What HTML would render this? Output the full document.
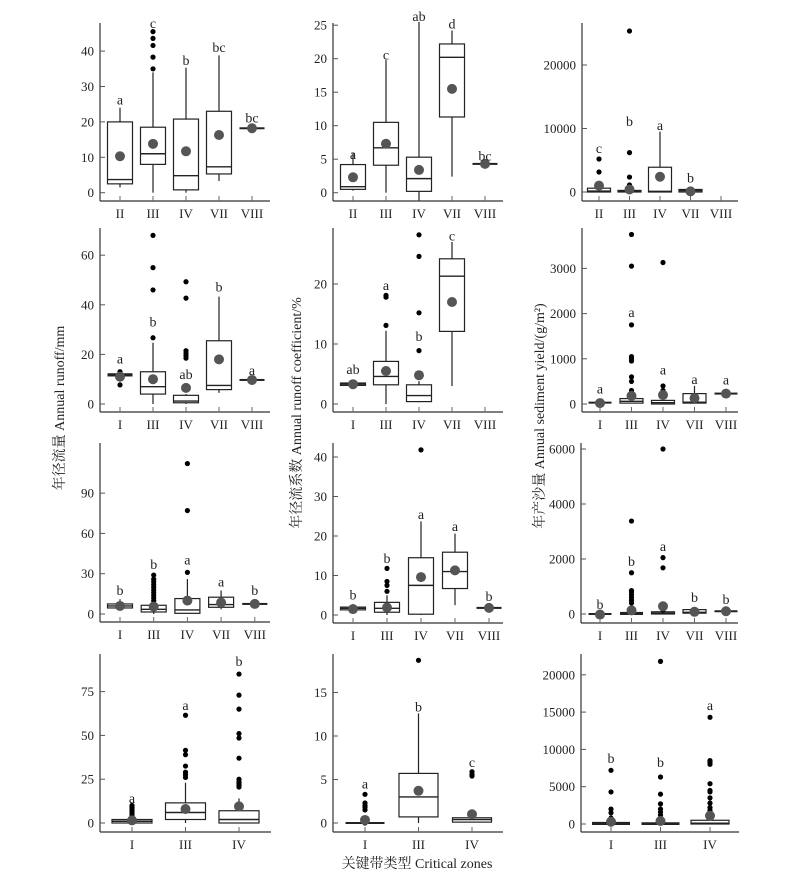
<!DOCTYPE html>
<html><head><meta charset="utf-8">
<style>
html,body{margin:0;padding:0;background:#fff;}
svg{display:block;font-family:"Liberation Serif","Noto Serif CJK SC",serif;}
</style></head>
<body>
<svg id="fig" width="800" height="879" viewBox="0 0 800 879" xmlns="http://www.w3.org/2000/svg">
<text x="0" y="0" transform="translate(64,408) rotate(-90)" text-anchor="middle" font-size="14" fill="#222">年径流量 Annual runoff/mm</text>
<text x="0" y="0" transform="translate(301,413) rotate(-90)" text-anchor="middle" font-size="14" fill="#222">年径流系数 Annual runoff coefficient/%</text>
<text x="0" y="0" transform="translate(544,416) rotate(-90)" text-anchor="middle" font-size="14" fill="#222">年产沙量 Annual sediment yield/(g/m²)</text>
<text x="417" y="868" text-anchor="middle" font-size="14" fill="#222">关键带类型  Critical zones</text>
</svg>
<script>
// ---------- Panel data ----------
const p1_cats=["II","III","IV","VII","VIII"];
const p1_lo=[1.5,0,0,3.3,18.2];
const p1_q1=[2.5,8,0.8,5.3,18.2];
const p1_med=[3.7,11,4.8,7.3,18.2];
const p1_q3=[20,18.5,20.8,23,18.2];
const p1_hi=[24,34,35.3,38.8,18.2];
const p1_mean=[10.3,13.8,11.7,16.3,18.2];
const p1_out=[[],[35,38.3,41.6,43.6,45.5],[],[],[]];
const p1_letters=["a","c","b","bc","bc"];
const p1_letterY=[26,47.6,37.2,40.9,21];
const p1_ticks=[0,10,20,30,40];

const p2_cats=["II","III","IV","VII","VIII"];
const p2_lo=[0.3,0,-1.2,2.4,4.3];
const p2_q1=[0.5,4.1,0.2,11.3,4.3];
const p2_med=[0.9,6.7,2.1,20.2,4.3];
const p2_q3=[4.2,10.5,5.3,22.2,4.3];
const p2_hi=[6,19.8,25.5,24.2,4.3];
const p2_mean=[2.3,7.3,3.4,15.5,4.3];
const p2_out=[[],[],[],[],[]];
const p2_letters=["a","c","ab","d","bc"];
const p2_letterY=[5.6,20.5,26.2,25.1,5.4];
const p2_ticks=[0,5,10,15,20,25];

const p3_cats=["II","III","IV","VII","VIII"];
const p3_lo=[0,0,0,0,null];
const p3_q1=[0,0,0,0,null];
const p3_med=[150,100,100,200,null];
const p3_q3=[600,250,3900,400,null];
const p3_hi=[600,250,9500,400,null];
const p3_mean=[1000,400,2400,100,null];
const p3_out=[[3150,5200],[1100,2350,6200,25350],[],[],[]];
const p3_letters=["c","b","a","b",""];
const p3_letterY=[6800,11000,10400,2100,0];
const p3_ticks=[0,10000,20000];

const p4_cats=["I","III","IV","VII","VIII"];
const p4_lo=[11.7,0,0,4.5,9.7];
const p4_q1=[11.5,4,0.5,5.8,9.7];
const p4_med=[11.7,7,1.2,7.5,9.7];
const p4_q3=[12,13,3.5,25.5,9.7];
const p4_hi=[11.7,24.7,4,43.3,9.7];
const p4_mean=[11,10,6.5,18,9.7];
const p4_out=[[7.7,13],[26.7,46,55,68],[18.5,19.5,20.5,21.5,42.7,49.3],[],[]];
const p4_letters=["a","b","ab","b","a"];
const p4_letterY=[17.9,32.8,11.7,47,13.4];
const p4_ticks=[0,20,40,60];

const p5_cats=["I","III","IV","VII","VIII"];
const p5_lo=[3.1,0,0.3,3,null];
const p5_q1=[3.1,3.2,0.4,12.1,null];
const p5_med=[3.3,4.6,1.4,21.3,null];
const p5_q3=[3.5,7.1,3.2,24.2,null];
const p5_hi=[3.5,12.2,3.8,27,null];
const p5_mean=[3.3,5.5,4.8,17,null];
const p5_out=[[],[13.1,17.8,18.1],[8.9,15.2,24.6,28.2],[],[]];
const p5_letters=["ab","a","b","c",""];
const p5_letterY=[5.7,19.7,11.2,27.9,0];
const p5_ticks=[0,10,20];

const p6_cats=["I","III","IV","VII","VIII"];
const p6_lo=[30,20,0,20,230];
const p6_q1=[30,20,0,20,230];
const p6_med=[30,60,30,40,230];
const p6_q3=[30,120,80,230,230];
const p6_hi=[30,200,150,400,230];
const p6_mean=[20,180,200,130,230];
const p6_out=[[],[230,300,500,600,950,1000,1050,1750,3050,3750],[200,300,400,3130],[],[]];
const p6_letters=["a","a","a","a","a"];
const p6_letterY=[320,2010,740,530,515];
const p6_ticks=[0,1000,2000,3000];

const p7_cats=["I","III","IV","VII","VIII"];
const p7_lo=[3,0,0,3.5,7.5];
const p7_q1=[4.5,1.5,0.5,5,7.5];
const p7_med=[6,3.5,3,7,7.5];
const p7_q3=[7.5,6.5,11.5,12.5,7.5];
const p7_hi=[11,7,26,17.5,7.5];
const p7_mean=[6,5.5,10,8.5,7.5];
const p7_out=[[],[8,10,12,14,16,18,20,22,24,26,29],[31,77,112],[],[]];
const p7_letters=["b","b","a","a","b"];
const p7_letterY=[17,36.5,40,23.3,17];
const p7_ticks=[0,30,60,90];

const p8_cats=["I","III","IV","VII","VIII"];
const p8_lo=[1.3,0,0,2.5,1.8];
const p8_q1=[1.3,0.7,0.2,6.7,1.8];
const p8_med=[1.7,1.7,7.5,11,1.8];
const p8_q3=[2,3.2,14.5,15.9,1.8];
const p8_hi=[2.8,5,23.7,20.6,1.8];
const p8_mean=[1.5,1.9,9.6,11.3,1.8];
const p8_out=[[],[6,7.5,8.5,11.8],[41.8],[],[]];
const p8_letters=["b","b","a","a","b"];
const p8_letterY=[5,14.2,25.3,22.3,4.6];
const p8_ticks=[0,10,20,30,40];

const p9_cats=["I","III","IV","VII","VIII"];
const p9_lo=[0,0,0,30,100];
const p9_q1=[0,0,0,30,100];
const p9_med=[0,20,30,60,100];
const p9_q3=[0,40,80,160,100];
const p9_hi=[0,300,100,200,100];
const p9_mean=[-20,130,280,80,100];
const p9_out=[[],[400,500,600,700,800,850,1500,3380],[150,1680,2050,6000],[],[]];
const p9_letters=["b","b","a","b","b"];
const p9_letterY=[330,1890,2440,580,510];
const p9_ticks=[0,2000,4000,6000];

const p10_cats=["I","III","IV"];
const p10_lo=[0,0,0];
const p10_q1=[0,2,0];
const p10_med=[1,6,2];
const p10_q3=[2,11.5,7];
const p10_hi=[3,23,14];
const p10_mean=[1.5,8,9.5];
const p10_out=[[4,5,6,7,8,9,10],[26,27.5,29,32.5,39,41.5,61.5],[20.5,21.5,22.5,23.5,25,37,48.5,51,65,73,85]];
const p10_letters=["a","a","b"];
const p10_letterY=[13.7,66.8,92];
const p10_ticks=[0,25,50,75];

const p11_cats=["I","III","IV"];
const p11_lo=[0,0,0.1];
const p11_q1=[0,0.7,0.1];
const p11_med=[0,3,0.4];
const p11_q3=[0,5.7,0.6];
const p11_hi=[0,12.6,0.6];
const p11_mean=[0.35,3.7,1];
const p11_out=[[0,1.5,1.8,2,2.3,3.3],[18.7],[5.4,5.6,5.9]];
const p11_letters=["a","b","c"];
const p11_letterY=[4.4,13.3,6.9];
const p11_ticks=[0,5,10,15];

const p12_cats=["I","III","IV"];
const p12_lo=[0,0,0];
const p12_q1=[0,0,0];
const p12_med=[100,50,100];
const p12_q3=[150,100,500];
const p12_hi=[150,100,500];
const p12_mean=[300,400,1100];
const p12_out=[[800,1500,2000,4300,7200],[800,1200,1600,2000,2700,4000,6300,21800],[1800,2200,2800,3500,4300,4500,5400,8000,8300,8500,14300]];
const p12_letters=["b","b","a"];
const p12_letterY=[8700,8200,15800];
const p12_ticks=[0,5000,10000,15000,20000];

// ---------- Layout (pixel geometry, not data) ----------
const panels=[
 {id:"runoff-row1",ax:100,end:270,top:23,base:201,zero:192.7,ppu:3.54,c0:120,step:33,bw:25,d:[p1_cats,p1_lo,p1_q1,p1_med,p1_q3,p1_hi,p1_mean,p1_out,p1_letters,p1_letterY,p1_ticks]},
 {id:"coef-row1",ax:333,end:503,top:23,base:201,zero:192.7,ppu:6.7,c0:353,step:33,bw:25,d:[p2_cats,p2_lo,p2_q1,p2_med,p2_q3,p2_hi,p2_mean,p2_out,p2_letters,p2_letterY,p2_ticks]},
 {id:"sediment-row1",ax:582,end:738,top:23,base:201,zero:192,ppu:0.00635,c0:599,step:30.5,bw:23,d:[p3_cats,p3_lo,p3_q1,p3_med,p3_q3,p3_hi,p3_mean,p3_out,p3_letters,p3_letterY,p3_ticks]},
 {id:"runoff-row2",ax:100,end:270,top:228,base:412,zero:404,ppu:2.48,c0:120,step:33,bw:25,d:[p4_cats,p4_lo,p4_q1,p4_med,p4_q3,p4_hi,p4_mean,p4_out,p4_letters,p4_letterY,p4_ticks]},
 {id:"coef-row2",ax:333,end:503,top:228,base:412,zero:404,ppu:6.0,c0:353,step:33,bw:25,d:[p5_cats,p5_lo,p5_q1,p5_med,p5_q3,p5_hi,p5_mean,p5_out,p5_letters,p5_letterY,p5_ticks]},
 {id:"sediment-row2",ax:582,end:738,top:228,base:412,zero:404,ppu:0.0452,c0:600,step:31.5,bw:23,d:[p6_cats,p6_lo,p6_q1,p6_med,p6_q3,p6_hi,p6_mean,p6_out,p6_letters,p6_letterY,p6_ticks]},
 {id:"runoff-row3",ax:100,end:270,top:443,base:622,zero:614,ppu:1.343,c0:120,step:33.7,bw:25,d:[p7_cats,p7_lo,p7_q1,p7_med,p7_q3,p7_hi,p7_mean,p7_out,p7_letters,p7_letterY,p7_ticks]},
 {id:"coef-row3",ax:333,end:503,top:443,base:623,zero:615,ppu:3.95,c0:353,step:34,bw:25,d:[p8_cats,p8_lo,p8_q1,p8_med,p8_q3,p8_hi,p8_mean,p8_out,p8_letters,p8_letterY,p8_ticks]},
 {id:"sediment-row3",ax:581,end:738,top:443,base:623,zero:614,ppu:0.0275,c0:600,step:31.5,bw:23,d:[p9_cats,p9_lo,p9_q1,p9_med,p9_q3,p9_hi,p9_mean,p9_out,p9_letters,p9_letterY,p9_ticks]},
 {id:"runoff-row4",ax:100,end:271,top:654,base:832,zero:823,ppu:1.752,c0:132,step:53.5,bw:40,d:[p10_cats,p10_lo,p10_q1,p10_med,p10_q3,p10_hi,p10_mean,p10_out,p10_letters,p10_letterY,p10_ticks]},
 {id:"coef-row4",ax:333,end:503,top:654,base:832,zero:823,ppu:8.7,c0:365,step:53.5,bw:39,d:[p11_cats,p11_lo,p11_q1,p11_med,p11_q3,p11_hi,p11_mean,p11_out,p11_letters,p11_letterY,p11_ticks]},
 {id:"sediment-row4",ax:581,end:739,top:654,base:832,zero:824,ppu:0.00746,c0:611,step:49.5,bw:38,d:[p12_cats,p12_lo,p12_q1,p12_med,p12_q3,p12_hi,p12_mean,p12_out,p12_letters,p12_letterY,p12_ticks]}
];

const NS="http://www.w3.org/2000/svg";
const svg=document.getElementById("fig");
function mk(parent,tag,attrs){const e=document.createElementNS(NS,tag);for(const k in attrs)e.setAttribute(k,attrs[k]);parent.appendChild(e);return e;}

panels.forEach(function(p){
  const [cats,lo,q1,med,q3,hi,mean,out,letters,letterY,ticks]=p.d;
  const yS=function(v){return p.zero-v*p.ppu;};
  const xS=function(i){return p.c0+i*p.step;};
  const g=mk(svg,"g",{});
  
  
  // axes
  const ya=mk(g,"line",{x1:p.ax,y1:p.top,x2:p.ax,y2:p.base,stroke:"#333","stroke-width":1.2});
  
  
  const xa=mk(g,"line",{x1:p.ax,y1:p.base,x2:p.end,y2:p.base,stroke:"#333","stroke-width":1.2});
  
  
  ticks.forEach(function(t){
    const y=yS(t);
    const tl=mk(g,"line",{x1:p.ax,y1:y,x2:p.ax+5,y2:y,stroke:"#555","stroke-width":1});
    
    
    const tx=mk(g,"text",{x:p.ax-6,y:y+4.5,"text-anchor":"end","font-size":13,fill:"#222"});
    tx.textContent=String(t);
    
    
  });
  cats.forEach(function(c,i){
    const x=xS(i);
    const tk=mk(g,"line",{x1:x,y1:p.base,x2:x,y2:p.base-5,stroke:"#666","stroke-width":1});
    
    
    const lb=mk(g,"text",{x:x,y:p.base+17,"text-anchor":"middle","font-size":13,fill:"#222"});
    lb.textContent=c;
    
    
    if(lo[i]===null||lo[i]===undefined) return;
    const hw=p.bw/2;
    // whiskers
    if(hi[i]>q3[i]){
      const w=mk(g,"line",{x1:x,y1:yS(q3[i]),x2:x,y2:yS(hi[i]),stroke:"#222","stroke-width":1.2});
      
      
    }
    if(lo[i]<q1[i]){
      const w=mk(g,"line",{x1:x,y1:yS(q1[i]),x2:x,y2:yS(lo[i]),stroke:"#222","stroke-width":1.2});
      
      
    }
    // box
    const bh=Math.max(yS(q1[i])-yS(q3[i]),0);
    if(bh>1.5){
      const b=mk(g,"rect",{x:x-hw,y:yS(q3[i]),width:p.bw,height:bh,fill:"#fff",stroke:"#222","stroke-width":1.2});
      
      
    } else {
      const b=mk(g,"rect",{x:x-hw,y:yS(q3[i])-1,width:p.bw,height:bh+2,fill:"#222",stroke:"none"});
      
      
    }
    const m=mk(g,"line",{x1:x-hw,y1:yS(med[i]),x2:x+hw,y2:yS(med[i]),stroke:"#222","stroke-width":1.4});
    
    
    // outliers
    out[i].forEach(function(v){
      const o=mk(g,"circle",{cx:x,cy:yS(v),r:2.6,fill:"#000"});
      
      
    });
    // mean
    const mc=mk(g,"circle",{cx:x,cy:yS(mean[i]),r:5,fill:"#555"});
    
    
    // letter
    if(letters[i]){
      const lt=mk(g,"text",{x:x,y:yS(letterY[i])+4,"text-anchor":"middle","font-size":14,fill:"#222"});
      lt.textContent=letters[i];
      
      
    }
  });
});
</script>
</body></html>
